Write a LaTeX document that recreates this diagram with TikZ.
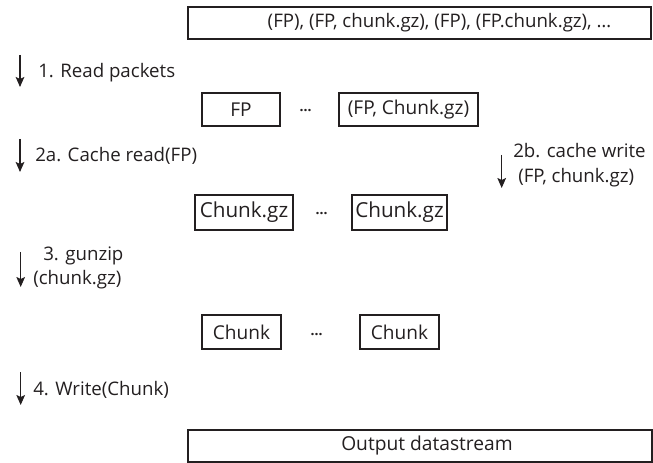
\documentclass[tikz,border=0pt]{standalone}
\usepackage{fontspec}
\setmainfont{Open Sans}
\usetikzlibrary{arrows.meta}
\definecolor{ink}{RGB}{35,31,32}
\begin{document}
\begin{tikzpicture}[x=0.75pt,y=-0.75pt, color=ink,
  box/.style={draw, line width=1.4pt, inner sep=0pt, font=\fontsize{14.3}{16}\selectfont},
  lbl/.style={inner sep=0pt, anchor=base west, font=\fontsize{14}{16}\selectfont},
  dots/.style={inner sep=0pt, font=\fontsize{10.5}{12}\bfseries},
  flow/.style={line width=0.8pt, -{Stealth[length=7.5pt,width=6.5pt,inset=1.5pt]}}]
\useasboundingbox (0,0) rectangle (653,463);
% boxes
\node[box, minimum width={463*0.75pt}, minimum height={32.6*0.75pt}, font=\fontsize{14}{16}\selectfont] (top) at (419.5,23)
  {\hspace*{30pt}(FP), (FP, chunk.gz), (FP), (FP.chunk.gz), …};
\node[box, minimum width={78*0.75pt}, minimum height={33*0.75pt}] (fp) at (241,109.5) {FP};
\node[dots] (d1) at (305.7,111) {…};
\node[box, minimum width={139*0.75pt}, minimum height={33*0.75pt}] (fpc) at (408.5,109.5) {(FP, Chunk.gz)};
\node[box, minimum width={98*0.75pt}, minimum height={35*0.75pt}, font=\fontsize{15.5}{17}\selectfont] (cg1) at (244,212.5) {Chunk.gz};
\node[dots] (d2) at (321.7,214) {…};
\node[box, minimum width={95*0.75pt}, minimum height={35*0.75pt}, font=\fontsize{15.5}{17}\selectfont] (cg2) at (399.5,212.5) {Chunk.gz};
\node[box, minimum width={79*0.75pt}, minimum height={34*0.75pt}] (c1) at (241.5,332) {Chunk};
\node[dots] (d3) at (316.7,335) {…};
\node[box, minimum width={79*0.75pt}, minimum height={34*0.75pt}] (c2) at (399.5,332) {Chunk};
\node[box, minimum width={464*0.75pt}, minimum height={31.5*0.75pt}, font=\fontsize{14.4}{16}\selectfont] (out) at (420,446)
  {\hspace*{10.5pt}Output datastream};
% step labels
\node[lbl] (l1) at (38,77.7) {1. Read packets};
\node[lbl] (l2a) at (35,161.7) {2a. Cache read(FP)};
\node[lbl] (l2b1) at (513,158) {2b. cache write};
\node[lbl] (l2b2) at (518,182.5) {(FP, chunk.gz)};
\node[lbl] (l31) at (43,261) {3. gunzip};
\node[lbl] (l32) at (33,285) {(chunk.gz)};
\node[lbl] (l4) at (33,395) {4. Write(Chunk)};
% arrows
\coordinate (a1s) at (20,55);   \coordinate (a1e) at (20,87);
\coordinate (a2s) at (20,139);  \coordinate (a2e) at (20,172);
\coordinate (b2s) at (501.7,155); \coordinate (b2e) at (501.7,188);
\coordinate (a3s) at (20.7,252); \coordinate (a3e) at (20.7,287);
\coordinate (a4s) at (20.7,372); \coordinate (a4e) at (20.7,405);
\draw[flow] (a1s) -- (a1e);
\draw[flow] (a2s) -- (a2e);
\draw[flow] (b2s) -- (b2e);
\draw[flow] (a3s) -- (a3e);
\draw[flow] (a4s) -- (a4e);
\end{tikzpicture}
\end{document}
